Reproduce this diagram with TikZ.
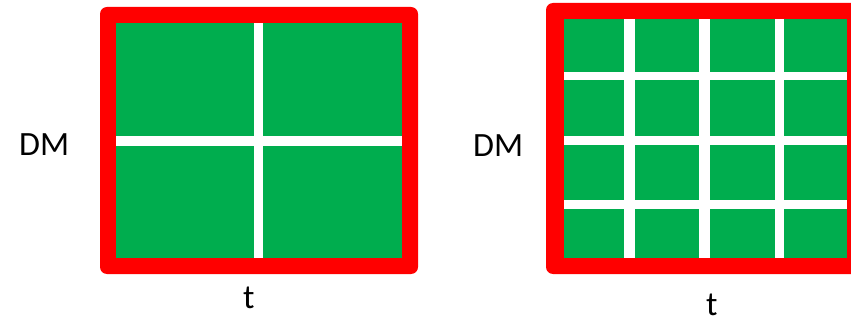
\documentclass[tikz,border=0pt]{standalone}
\usepackage{fontspec}
\setmainfont{Carlito}
\definecolor{gridgreen}{RGB}{0,173,78}
\definecolor{framered}{RGB}{255,0,0}
\tikzset{
  frame/.style={fill=framered, rounded corners=7pt},
  field/.style={fill=gridgreen},
  gap/.style={fill=white},
  lbl/.style={inner sep=0pt, anchor=base west, font=\fontsize{34}{40}\selectfont}
}
\begin{document}
\begin{tikzpicture}[x=1pt,y=-1pt]
\useasboundingbox (0,0) rectangle (851,323);
% left panel
\path[frame] (100,7) rectangle (418,274);
\path[field] (116,23) rectangle (402,258);
\path[gap] (254,23) rectangle (263,258);
\path[gap] (116,136) rectangle (402,146);
% right panel
\begin{scope}
\clip (0,0) rectangle (851,323);
\path[frame] (546,3) rectangle (870,274);
\end{scope}
\path[field] (564,19) rectangle (847,258);
\path[gap] (624,19) rectangle (635,258);
\path[gap] (699,19) rectangle (710,258);
\path[gap] (775,19) rectangle (784,258);
\path[gap] (564,72) rectangle (847,80);
\path[gap] (564,136) rectangle (847,145);
\path[gap] (564,200) rectangle (847,209);
% labels
\node[lbl] (dmL) at (19,156) {DM};
\node[lbl] (tL) at (243,308) {t};
\node[lbl] (dmR) at (473,157) {DM};
\node[lbl] (tR) at (706,315) {t};
\end{tikzpicture}
\end{document}
